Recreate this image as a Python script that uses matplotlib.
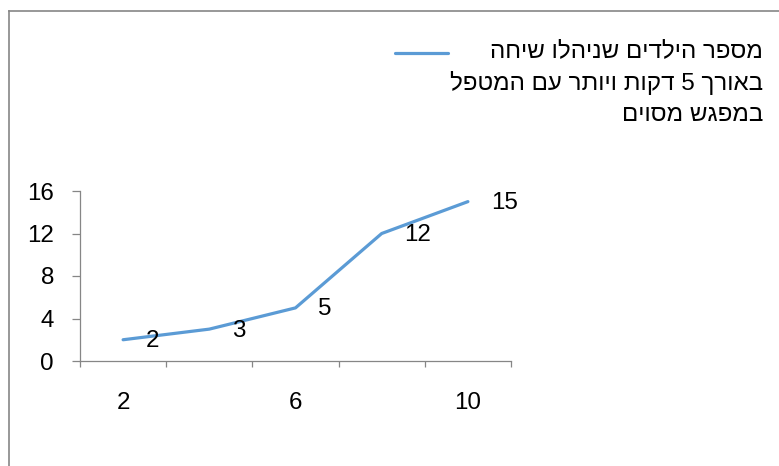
import matplotlib
matplotlib.use("Agg")
import matplotlib.pyplot as plt
from matplotlib.lines import Line2D
from matplotlib.ticker import FixedLocator

plt.rcParams['font.family'] = ['Liberation Sans', 'DejaVu Sans']

categories = ["2", "4", "6", "8", "10"]
values = [2, 3, 5, 12, 15]
shown_tick_labels = ["2", "6", "10"]
y_ticks = [0, 4, 8, 12, 16]
legend_lines = ["מספר הילדים שניהלו שיחה",
                "באורך 5 דקות ויותר עם המטפל",
                "במפגש מסוים"]

W, H = 779, 466
fig = plt.figure(figsize=(W / 100, H / 100), dpi=100)
ax = fig.add_axes([80 / W, 1 - 361 / H, (511 - 80) / W, (361 - 191) / H])

LINE_C = "#5B9BD5"
AX_C = "#868686"
FS = 17.4

x = list(range(len(categories)))
ax.plot(x, values, color=LINE_C, lw=2.3, solid_capstyle='round')
for xi, v in zip(x, values):
    ax.annotate(str(v), (xi, v), xytext=(16.5, -1), textcoords='offset points',
                ha='left', va='center', fontsize=FS, color='black')

ax.set_xlim(-0.5, len(categories) - 0.5)
ax.set_ylim(0, 16)
ax.set_yticks(y_ticks)
ax.set_yticklabels([str(t) for t in y_ticks], fontsize=FS)

ax.set_xticks([categories.index(c) for c in shown_tick_labels])
ax.set_xticklabels(shown_tick_labels, fontsize=FS)
ax.xaxis.set_minor_locator(FixedLocator([i - 0.5 for i in range(len(categories) + 1)]))
ax.tick_params(axis='x', which='major', length=0, pad=22)
ax.tick_params(axis='x', which='minor', length=4.5, width=0.9, color=AX_C, direction='out')
ax.tick_params(axis='y', which='major', length=5.8, width=0.9, color=AX_C, pad=13)

for s in ['top', 'right']:
    ax.spines[s].set_visible(False)
for s in ['left', 'bottom']:
    ax.spines[s].set_color(AX_C)
    ax.spines[s].set_linewidth(0.9)

# legend (manual, right-to-left text)
fig.add_artist(Line2D([395 / W, 448 / W], [1 - 53 / H, 1 - 53 / H],
                      color=LINE_C, lw=2.3, solid_capstyle='round'))
for i, line in enumerate(legend_lines):
    fig.text(763 / W, 1 - (51 + 32 * i) / H, line[::-1], ha='right', va='center',
             fontsize=FS, color='black')

# chart frame border (left and top edges visible)
fig.add_artist(Line2D([9 / W, 9 / W], [0, 1 - 11 / H], color=AX_C, lw=1.2))
fig.add_artist(Line2D([9 / W, 1], [1 - 11 / H, 1 - 11 / H], color=AX_C, lw=1.2))

fig.savefig("out.png", dpi=100)
